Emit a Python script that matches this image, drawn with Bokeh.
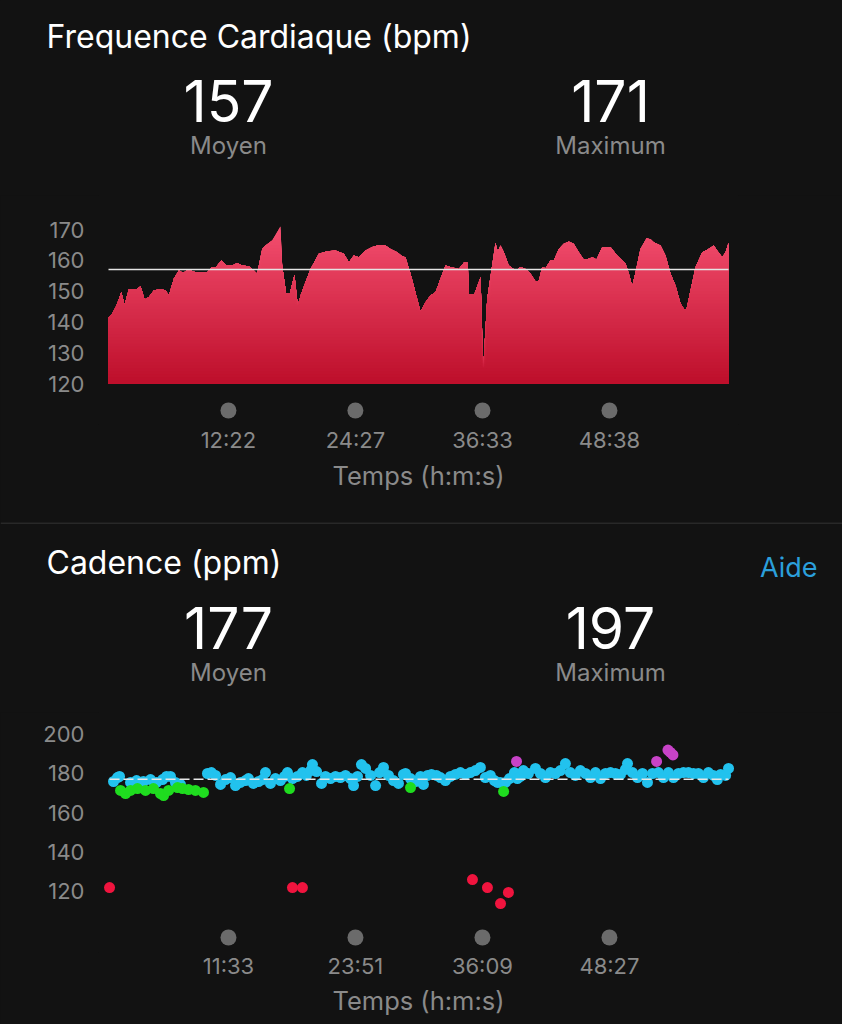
import numpy as np
from bokeh.plotting import figure
from bokeh.models import Range1d, FixedTicker, Label, Span
from bokeh.layouts import column
from bokeh.embed import file_html
from bokeh.resources import INLINE

# ---------------- data ----------------
hr_avg = 157
hr_max = 171
hr_time = [57, 78, 103, 130, 149, 173, 221, 240, 263, 287,
           316, 354, 383, 402, 430, 459, 484, 510, 554, 621,
           649, 668, 701, 731, 764, 792, 821, 858, 887, 906,
           935, 954, 992, 1039, 1049, 1072, 1093, 1119, 1138, 1154,
           1182, 1211, 1258, 1306, 1354, 1401, 1430, 1458, 1487, 1525,
           1563, 1601, 1639, 1668, 1706, 1734, 1753, 1782, 1810, 1839,
           1868, 1896, 1925, 1953, 1982, 2010, 2058, 2086, 2109, 2115,
           2147, 2182, 2197, 2220, 2248, 2267, 2280, 2296, 2315, 2343,
           2382, 2410, 2439, 2467, 2496, 2515, 2534, 2553, 2581, 2600,
           2629, 2657, 2686, 2714, 2743, 2772, 2800, 2820, 2844, 2877,
           2924, 2962, 3010, 3029, 3048, 3067, 3095, 3130, 3153, 3171,
           3210, 3238, 3267, 3295, 3324, 3347, 3358, 3381, 3410, 3448,
           3476, 3514, 3533, 3562, 3581, 3598]
hr_bpm = [141.5, 142.6, 145.3, 149.6, 145.6, 150.5, 150.7, 151.6, 147.3, 148.0,
          150.2, 150.7, 150.2, 148.6, 154.0, 156.7, 155.9, 157.0, 156.1, 156.1,
          157.8, 157.6, 159.9, 158.3, 158.3, 159.1, 158.3, 158.1, 156.7, 155.6,
          163.7, 164.8, 166.4, 171.0, 158.3, 149.1, 149.4, 155.3, 145.3, 148.6,
          152.9, 157.2, 162.1, 162.9, 163.2, 162.1, 159.4, 161.6, 161.0, 163.2,
          164.3, 165.0, 164.8, 163.7, 162.6, 161.3, 161.0, 155.6, 149.6, 143.2,
          146.4, 148.6, 149.6, 154.0, 158.3, 157.8, 157.2, 159.2, 159.2, 149.1,
          149.1, 154.5, 124.8, 147.5, 158.3, 165.7, 162.9, 164.8, 162.6, 158.3,
          156.7, 157.8, 157.2, 155.6, 153.1, 153.4, 157.8, 157.4, 159.9, 159.9,
          163.7, 165.4, 166.1, 165.4, 162.6, 160.2, 160.5, 161.0, 160.3, 164.3,
          164.3, 161.6, 158.9, 155.6, 151.5, 156.1, 163.7, 167.2, 166.8, 165.9,
          164.8, 161.6, 155.6, 151.8, 145.9, 143.9, 144.0, 150.2, 157.8, 162.6,
          163.4, 164.8, 163.2, 161.0, 162.6, 165.7]
hr_xticks = [742, 1467, 2193, 2918]
hr_yticks = [120, 130, 140, 150, 160, 170]

cad_avg = 177
cad_max = 197
cyan_t = [25, 48, 60, 124, 159, 199, 240, 275, 310, 333,
          356, 385, 414, 571, 594, 618, 647, 676, 705, 734,
          763, 792, 809, 838, 868, 891, 908, 937, 966, 995,
          1019, 1036, 1065, 1094, 1123, 1146, 1170, 1181, 1205, 1234,
          1257, 1286, 1315, 1344, 1373, 1402, 1420, 1443, 1466, 1490,
          1519, 1548, 1571, 1594, 1623, 1652, 1681, 1710, 1722, 1751,
          1780, 1809, 1826, 1850, 1873, 1902, 1925, 1954, 1983, 2012,
          2041, 2070, 2099, 2128, 2157, 2186, 2215, 2239, 2256, 2273,
          2303, 2326, 2355, 2372, 2390, 2407, 2436, 2477, 2506, 2535,
          2564, 2593, 2622, 2651, 2680, 2709, 2738, 2768, 2797, 2826,
          2855, 2884, 2913, 2942, 2971, 3000, 3012, 3041, 3070, 3099,
          3128, 3157, 3192, 3221, 3250, 3279, 3308, 3337, 3366, 3395,
          3424, 3453, 3482, 3511, 3534, 3553, 3582, 3599]
cyan_v = [175.9, 177.9, 178.5, 175.4, 176.4, 175.9, 176.9, 175.4, 176.9, 178.5,
          178.5, 175.4, 174.4, 180.0, 180.5, 179.0, 174.4, 176.9, 177.9, 173.8,
          175.4, 176.4, 177.4, 174.9, 175.9, 176.9, 180.5, 174.9, 177.4, 176.4,
          178.5, 180.5, 177.4, 178.5, 180.5, 179.0, 181.5, 184.6, 181.0, 174.9,
          178.5, 177.4, 178.5, 177.9, 179.0, 177.4, 173.8, 178.5, 184.6, 182.6,
          179.0, 173.8, 180.5, 183.1, 179.0, 176.4, 174.9, 179.5, 180.0, 177.4,
          175.9, 178.5, 174.4, 179.0, 179.5, 179.0, 177.9, 176.4, 178.5, 179.5,
          180.5, 179.5, 180.5, 181.5, 183.1, 177.9, 179.0, 176.4, 175.4, 175.4,
          175.4, 177.4, 180.5, 177.4, 178.5, 181.5, 180.0, 182.6, 180.0, 177.9,
          180.5, 180.0, 181.5, 185.1, 180.5, 179.0, 181.5, 180.0, 177.9, 180.5,
          177.4, 180.0, 180.5, 180.0, 179.5, 182.1, 185.1, 180.5, 177.9, 180.0,
          175.4, 180.0, 180.5, 177.9, 180.5, 177.9, 180.0, 180.5, 180.5, 180.0,
          180.0, 177.9, 180.5, 179.0, 176.9, 179.5, 179.0, 182.6]
green_t = [66, 95, 124, 164, 211, 257, 298, 316, 345, 397, 426, 461, 501, 548, 1048, 1751, 2292]
green_v = [171.3, 169.7, 171.3, 172.3, 171.3, 172.3, 169.7, 168.7, 171.3, 172.8, 172.3, 171.8,
           171.3, 170.3, 172.3, 172.8, 170.8]
purple_t = [2367, 3181, 3247, 3262, 3276]
purple_v = [186.2, 186.2, 192.0, 190.8, 189.5]
red_t = [2, 1065, 1123, 2111, 2198, 2274, 2320]
red_v = [121.5, 121.5, 121.5, 125.6, 121.5, 113.3, 119.0]
cad_xticks = [693, 1431, 2169, 2907]
cad_yticks = [120, 140, 160, 180, 200]

# ---------------- style ----------------
BG = "#121212"
GRAY = "#8a8a8a"
FONT = "Inter"
W = 842


def mmss(s):
    return f"{s // 60}:{s % 60:02d}"


def base_style(p):
    p.background_fill_color = BG
    p.border_fill_color = BG
    p.outline_line_color = None
    p.styles = {"background-color": BG}


def header_fig(height):
    p = figure(width=W, height=height, x_range=Range1d(0, W), y_range=Range1d(height, 0),
               output_backend="svg", toolbar_location=None, min_border=0,
               x_axis_location=None, y_axis_location=None, frame_align=False)
    base_style(p)
    p.xgrid.grid_line_color = None
    p.ygrid.grid_line_color = None
    return p


def chart_fig(height, xr, yr, bottom, xticks, yticks, tick_stand, lab_stand):
    p = figure(width=W, height=height, x_range=Range1d(*xr), y_range=Range1d(*yr),
               output_backend="svg", toolbar_location=None,
               min_border_left=98, min_border_right=104,
               min_border_top=0, min_border_bottom=bottom, frame_align=False)
    base_style(p)
    p.xgrid.visible = False
    p.ygrid.visible = False
    for ax in (p.xaxis[0], p.yaxis[0]):
        ax.axis_line_color = None
        ax.major_tick_line_color = None
        ax.minor_tick_line_color = None
        ax.major_tick_in = 0
        ax.major_tick_out = 0
        ax.minor_tick_in = 0
        ax.minor_tick_out = 0
        ax.major_label_text_font = FONT
        ax.major_label_text_font_size = "22px"
        ax.major_label_text_color = GRAY
    ya = p.yaxis[0]
    ya.ticker = FixedTicker(ticks=yticks)
    ya.major_label_standoff = 14
    xa = p.xaxis[0]
    xa.ticker = FixedTicker(ticks=xticks)
    xa.major_label_overrides = {t: mmss(t) for t in xticks}
    xa.major_label_standoff = tick_stand
    xa.axis_label = "Temps (h:m:s)"
    xa.axis_label_text_font = FONT
    xa.axis_label_text_font_size = "25.5px"
    xa.axis_label_text_font_style = "normal"
    xa.axis_label_text_color = GRAY
    xa.axis_label_standoff = lab_stand
    return p


def lab(p, x, y, text, size, color, align="center"):
    p.add_layout(Label(x=x, y=y, text=text, text_font=FONT, text_font_size=size,
                       text_color=color, text_align=align, text_baseline="middle"))


def mix(c1, c2, f):
    a = [int(c1[i:i + 2], 16) for i in (1, 3, 5)]
    b = [int(c2[i:i + 2], 16) for i in (1, 3, 5)]
    return "#" + "".join(f"{round(a[k] + (b[k] - a[k]) * f):02x}" for k in range(3))


# ---------------- heart rate header ----------------
h1 = header_fig(195)
lab(h1, 46, 36, "Frequence Cardiaque (bpm)", "32px", "white", "left")
lab(h1, 228, 100, str(hr_avg), "57px", "white")
lab(h1, 228, 145, "Moyen", "24px", GRAY)
lab(h1, 610, 100, str(hr_max), "57px", "white")
lab(h1, 610, 145, "Maximum", "24px", GRAY)

# ---------------- heart rate chart ----------------
p1 = chart_fig(327, (-0.1, 3655), (106.69, 181.04), 98, hr_xticks, hr_yticks, 2, 4)
t = np.array(hr_time, dtype=float)
v = np.array(hr_bpm, dtype=float)
top_c, bot_c = "#f44f70", "#bd0e2a"
for L in np.arange(172, 120, -1):
    f = (172 - L) / (172 - 120)
    p1.varea(x=t, y1=np.full_like(v, 120.0), y2=np.minimum(v, L), fill_color=mix(top_c, bot_c, f))
p1.line([hr_time[0], hr_time[-1]], [hr_avg, hr_avg], line_color="#e4e4e4", line_width=1.5)
p1.scatter(hr_xticks, [111.23] * len(hr_xticks), size=16, fill_color="#6b6b6b", line_color=None)

# ---------------- cadence header ----------------
h2 = header_fig(190)
h2.add_layout(Span(location=0.5, dimension="width", line_color="#3e3e3e", line_width=1))
lab(h2, 46, 40, "Cadence (ppm)", "32px", "white", "left")
lab(h2, 817, 45, "Aide", "27px", "#2b9fdb", "right")
lab(h2, 228, 105, str(cad_avg), "57px", "white")
lab(h2, 228, 150, "Moyen", "24px", GRAY)
lab(h2, 610, 105, str(cad_max), "57px", "white")
lab(h2, 610, 150, "Maximum", "24px", GRAY)

# ---------------- cadence chart ----------------
p2 = chart_fig(312, (-62.2, 3657), (88.21, 211.28), 72, cad_xticks, cad_yticks, 0, 3)
p2.scatter(cyan_t, cyan_v, size=11, fill_color="#22c2ee", line_color=None)
p2.scatter(green_t, green_v, size=11, fill_color="#1fdc1f", line_color=None)
p2.scatter(purple_t, purple_v, size=11, fill_color="#c843c8", line_color=None)
p2.scatter(red_t, red_v, size=11, fill_color="#f0143e", line_color=None)
all_t = cyan_t + green_t + purple_t + red_t
p2.line([min(all_t), max(all_t)], [cad_avg, cad_avg], line_color="#e8e8e8", line_width=1.5,
        line_dash="10 4")
p2.scatter(cad_xticks, [95.9] * len(cad_xticks), size=16, fill_color="#6b6b6b", line_color=None)

layout = column(h1, p1, h2, p2, spacing=0)
html = file_html(layout, INLINE, title="Frequence Cardiaque / Cadence")
html = html.replace("<body>", '<body style="background-color:#121212;">', 1)
open("out.html", "w").write(html)
